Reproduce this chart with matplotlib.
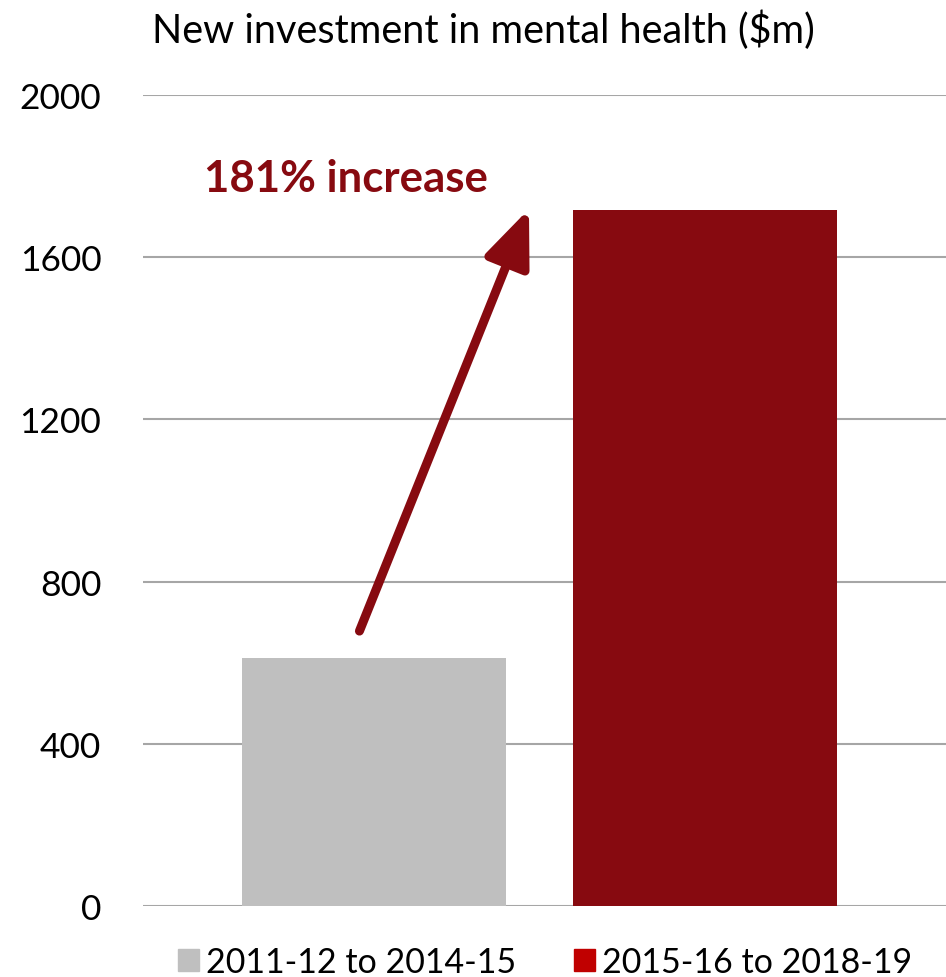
import matplotlib
matplotlib.use('Agg')
import matplotlib.pyplot as plt
from matplotlib.patches import Patch

periods = ['2011-12 to 2014-15', '2015-16 to 2018-19']
investment = [612, 1716]
yticks = [0, 400, 800, 1200, 1600, 2000]

bar_colors = ['#BFBFBF', '#870A10']
legend_colors = ['#BFBFBF', '#C00000']
dark_red = '#870A10'

plt.rcParams['font.family'] = ['Lato', 'DejaVu Sans']

fig = plt.figure(figsize=(9.46, 9.78), dpi=100)
ax = fig.add_axes([143 / 946, 1 - 907 / 978, 1 - 143 / 946, (907 - 96) / 978])

x = list(range(len(periods)))
ax.bar(x, investment, width=0.8, color=bar_colors, zorder=2)

ax.set_ylim(0, 2000)
ax.set_xlim(-0.70, 1.73)
ax.set_yticks(yticks)
ax.set_yticklabels([str(v) for v in yticks], fontsize=25.5)
ax.set_xticks([])
ax.tick_params(axis='y', length=0, pad=30)
ax.grid(axis='y', color='#A6A6A6', linewidth=1.5, zorder=0)
for s in ax.spines.values():
    s.set_visible(False)

# arrow from the first bar up to the second
ax.annotate('', xy=(0.468, 1719), xytext=(-0.045, 678),
            arrowprops=dict(arrowstyle='-|>,head_length=3.4,head_width=1.4',
                            color=dark_red, lw=6.5, shrinkA=0, shrinkB=0))
ax.text(-0.514, 1795, '181% increase', color=dark_red, fontsize=31.5,
        fontweight='bold', ha='left', va='center')

fig.text(483 / 946, 1 - 30 / 978, 'New investment in mental health ($m)',
         fontsize=28.5, ha='center', va='center')

handles = [Patch(color=c) for c in legend_colors]
fig.legend(handles, periods, loc='center', bbox_to_anchor=(545 / 946, 1 - 963 / 978),
           ncol=2, frameon=False, handlelength=0.62, handleheight=0.62,
           handletextpad=0.2, columnspacing=1.7, borderpad=0,
           prop={'size': 24.5})

fig.savefig('out.png', dpi=100)
